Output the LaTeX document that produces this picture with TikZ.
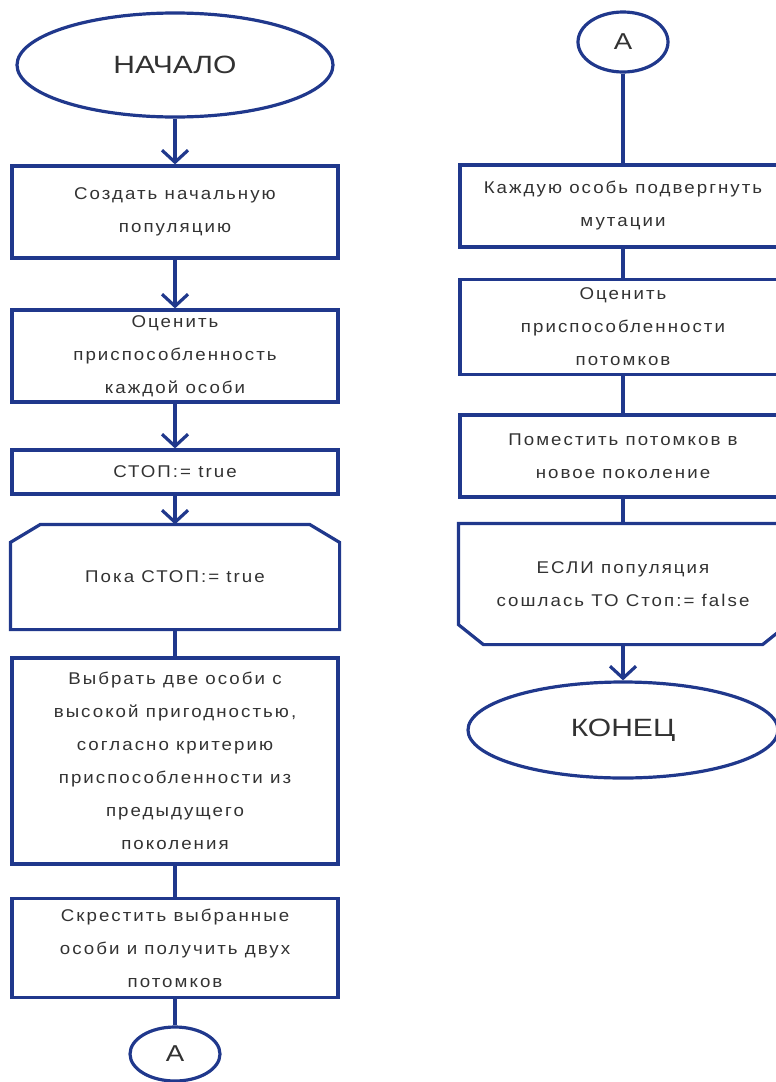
\documentclass[tikz,border=0pt]{standalone}
\usepackage{fontspec}
\usetikzlibrary{shapes.geometric,arrows.meta}
\newfontfamily\boxfont[FakeStretch=1.1,LetterSpace=12]{Liberation Sans}
\newfontfamily\termfont[FakeStretch=1.2]{Liberation Sans}
\definecolor{flowblue}{RGB}{32,56,140}
\definecolor{flowtext}{RGB}{50,50,50}

\begin{document}
\begin{tikzpicture}[x=1pt,y=-1pt,line width=3.2pt,color=flowblue,
	term/.style={ellipse,draw,inner sep=0pt,text=flowtext,font=\termfont\fontsize{25}{30}\selectfont},
	conn/.style={ellipse,draw,inner sep=0pt,minimum width=90pt,text=flowtext,font=\termfont\fontsize{23}{26}\selectfont},
	proc/.style={rectangle,draw,inner sep=0pt,minimum width=326pt,align=center,text=flowtext,font=\boxfont\fontsize{17}{33}\selectfont},
	bare/.style={proc,draw=none},
	flow/.style={-{Straight Barb[length=12pt,width=26pt]}}]
\useasboundingbox (0,0) rectangle (776,1082);

\path (175,65) node[term,minimum width=316pt,minimum height=104pt] (start) {НАЧАЛО}
		(175,212) node[proc,minimum height=92pt] (init) {Создать начальную\\популяцию}
		(175,356) node[proc,minimum height=92pt] (fit) {Оценить\\приспособленность\\каждой особи}
		(175,472) node[proc,minimum height=44pt] (stop) {СТОП:= true}
		(175,577) node[bare,minimum height=102pt] (loop) {Пока СТОП:= true}
		(175,761) node[proc,minimum height=206pt] (select) {Выбрать две особи с\\высокой пригодностью,\\согласно критерию\\приспособленности из\\предыдущего\\поколения}
		(175,948) node[proc,minimum height=99pt] (cross) {Скрестить выбранные\\особи и получить двух\\потомков}
		(175,1054) node[conn,minimum height=54pt] (linkA) {А}
		(623,42) node[conn,minimum height=60pt] (linkB) {А}
		(623,206) node[proc,minimum height=82pt] (mutate) {Каждую особь подвергнуть\\мутации}
		(623,327) node[proc,minimum height=95pt] (fitkids) {Оценить\\приспособленности\\потомков}
		(623,456) node[proc,minimum height=82pt] (place) {Поместить потомков в\\новое поколение}
		(623,584) node[bare,minimum height=118pt] (check) {ЕСЛИ популяция\\сошлась ТО Стоп:= false}
		(623,730) node[term,minimum width=310pt,minimum height=96pt] (finish) {КОНЕЦ}
;

% loop start and loop end
\draw (loop.south west) -- ([yshift=-18pt]loop.north west) -- ([xshift=30pt]loop.north west) -- ([xshift=-30pt]loop.north east) -- ([yshift=-18pt]loop.north east) -- (loop.south east) -- cycle;
\draw (check.north west) -- ([yshift=20pt]check.south west) -- ([xshift=25pt]check.south west) -- ([xshift=-25pt]check.south east) -- ([yshift=20pt]check.south east) -- (check.north east) -- cycle;

\draw[flow] (node cs:name=start) -- (node cs:name=init);
\draw[flow] (node cs:name=init) -- (node cs:name=fit);
\draw[flow] (node cs:name=fit) -- (node cs:name=stop);
\draw[flow] (node cs:name=stop) -- (node cs:name=loop);
\draw (node cs:name=loop) -- (node cs:name=select);
\draw (node cs:name=select) -- (node cs:name=cross);
\draw (node cs:name=cross) -- (node cs:name=linkA);

\draw (node cs:name=linkB) -- (node cs:name=mutate);
\draw (node cs:name=mutate) -- (node cs:name=fitkids);
\draw (node cs:name=fitkids) -- (node cs:name=place);
\draw (node cs:name=place) -- (node cs:name=check);
\draw[flow] (node cs:name=check) -- (node cs:name=finish);

\end{tikzpicture}
\end{document}
